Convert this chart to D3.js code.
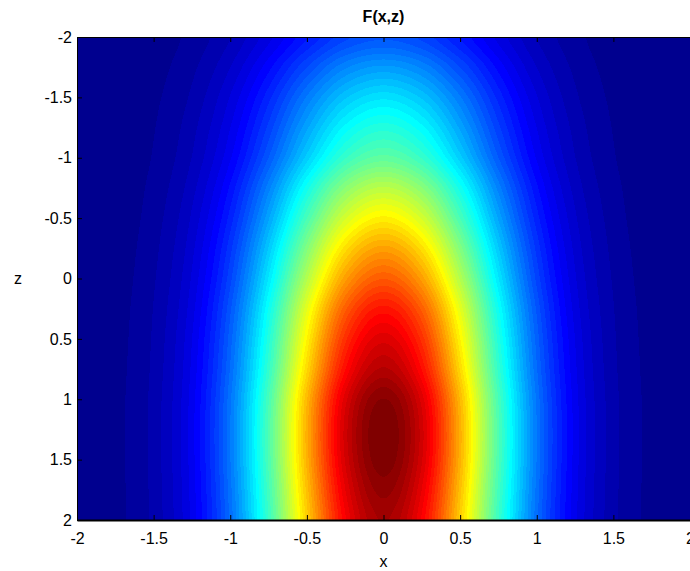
<!DOCTYPE html>
<html>
<head>
<meta charset="utf-8">
<script src="https://cdn.jsdelivr.net/npm/d3@7"></script>
<style>
  html, body { margin: 0; padding: 0; background: #fff; overflow: hidden; }
  svg { display: block; }
  text { font-family: "Liberation Sans", Arial, sans-serif; fill: #000; }
</style>
</head>
<body>
<svg id="chart" width="690" height="571"></svg>
<script>
// Sample grid of F(x,z): columns follow xs, rows follow zs
const xs = [-2, -1.75, -1.5, -1.25, -1, -0.75, -0.5, -0.25, 0, 0.25, 0.5, 0.75, 1, 1.25, 1.5, 1.75, 2];
const zs = [-2, -1.75, -1.5, -1.25, -1, -0.75, -0.5, -0.25, 0, 0.25, 0.5, 0.75, 1, 1.25, 1.5, 1.75, 2];
const F = [
  [0.0006,0.0024,0.0077,0.021,0.047,0.089,0.139,0.183,0.200,0.183,0.139,0.089,0.047,0.021,0.0077,0.0024,0.0006],
  [0.0008,0.0032,0.0103,0.028,0.063,0.120,0.188,0.247,0.270,0.247,0.188,0.120,0.063,0.028,0.0103,0.0032,0.0008],
  [0.0010,0.0040,0.0130,0.035,0.080,0.151,0.237,0.310,0.340,0.310,0.237,0.151,0.080,0.035,0.0130,0.0040,0.0010],
  [0.0012,0.0047,0.0153,0.042,0.094,0.177,0.278,0.365,0.400,0.365,0.278,0.177,0.094,0.042,0.0153,0.0047,0.0012],
  [0.0014,0.0054,0.0176,0.048,0.108,0.204,0.320,0.420,0.460,0.420,0.320,0.204,0.108,0.048,0.0176,0.0054,0.0014],
  [0.0017,0.0065,0.0211,0.057,0.129,0.244,0.383,0.502,0.550,0.502,0.383,0.244,0.129,0.057,0.0211,0.0065,0.0017],
  [0.0019,0.0074,0.0241,0.066,0.148,0.279,0.438,0.575,0.630,0.575,0.438,0.279,0.148,0.066,0.0241,0.0074,0.0019],
  [0.0021,0.0084,0.0272,0.074,0.167,0.315,0.494,0.648,0.710,0.648,0.494,0.315,0.167,0.074,0.0272,0.0084,0.0021],
  [0.0023,0.0092,0.0299,0.081,0.183,0.346,0.543,0.712,0.780,0.712,0.543,0.346,0.183,0.081,0.0299,0.0092,0.0023],
  [0.0026,0.0100,0.0326,0.088,0.200,0.377,0.592,0.776,0.850,0.776,0.592,0.377,0.200,0.088,0.0326,0.0100,0.0026],
  [0.0027,0.0106,0.0345,0.094,0.212,0.399,0.626,0.822,0.900,0.822,0.626,0.399,0.212,0.094,0.0345,0.0106,0.0027],
  [0.0028,0.0111,0.0360,0.098,0.221,0.416,0.654,0.858,0.940,0.858,0.654,0.416,0.221,0.098,0.0360,0.0111,0.0028],
  [0.0030,0.0116,0.0377,0.102,0.231,0.436,0.686,0.899,0.985,0.899,0.686,0.436,0.231,0.102,0.0377,0.0116,0.0030],
  [0.0030,0.0118,0.0383,0.104,0.235,0.443,0.696,0.913,1.000,0.913,0.696,0.443,0.235,0.104,0.0383,0.0118,0.0030],
  [0.0030,0.0117,0.0381,0.103,0.234,0.441,0.693,0.908,0.995,0.908,0.693,0.441,0.234,0.103,0.0381,0.0117,0.0030],
  [0.0029,0.0115,0.0373,0.101,0.229,0.432,0.679,0.890,0.975,0.890,0.679,0.432,0.229,0.101,0.0373,0.0115,0.0029],
  [0.0029,0.0113,0.0366,0.099,0.224,0.423,0.665,0.872,0.955,0.872,0.665,0.423,0.224,0.099,0.0366,0.0113,0.0029]
];
const xTicks = [-2, -1.5, -1, -0.5, 0, 0.5, 1, 1.5, 2];
const zTicks = [-2, -1.5, -1, -0.5, 0, 0.5, 1, 1.5, 2];
const titleText = "F(x,z)";
const xLabel = "x";
const zLabel = "z";

const svg = d3.select("#chart");
const plot = { left: 77, top: 37, width: 613, height: 483 };

const x = d3.scaleLinear().domain(d3.extent(xs)).range([plot.left, plot.left + plot.width]);
const z = d3.scaleLinear().domain(d3.extent(zs)).range([plot.top, plot.top + plot.height]);

// 64-level jet colormap
function jet(k) {
  const r = k <= 23 ? 0 : k <= 39 ? (k - 23) / 16 : k <= 55 ? 1 : 1 - (k - 55) / 16;
  const g = k <= 7 ? 0 : k <= 23 ? (k - 7) / 16 : k <= 39 ? 1 : k <= 55 ? 1 - (k - 39) / 16 : 0;
  const b = k <= 7 ? 0.5 + (k + 1) / 16 : k <= 23 ? 1 : k <= 39 ? 1 - (k - 23) / 16 : 0;
  return [Math.round(r * 255), Math.round(g * 255), Math.round(b * 255)];
}
const allVals = F.flat();
const color = d3.scaleQuantize()
  .domain([d3.min(allVals), d3.max(allVals)])
  .range(d3.range(64).map(jet));

// grid index scales for smooth (cubic) shading between samples
const ix = d3.scaleLinear().domain(d3.extent(xs)).range([0, xs.length - 1]);
const iz = d3.scaleLinear().domain(d3.extent(zs)).range([0, zs.length - 1]);
function cr(p0, p1, p2, p3, t) {
  return 0.5 * (2 * p1 + (-p0 + p2) * t + (2 * p0 - 5 * p1 + 4 * p2 - p3) * t * t + (-p0 + 3 * p1 - 3 * p2 + p3) * t * t * t);
}
const nx = xs.length, nz = zs.length;
const cx = i => Math.max(0, Math.min(nx - 1, i));
const cz = j => Math.max(0, Math.min(nz - 1, j));
function sample(xv, zv) {
  const fx = ix(xv), fz = iz(zv);
  const i = Math.min(nx - 2, Math.floor(fx)), j = Math.min(nz - 2, Math.floor(fz));
  const tx = fx - i, tz = fz - j;
  const rows = [];
  for (let m = -1; m <= 2; m++) {
    const row = F[cz(j + m)];
    rows.push(cr(row[cx(i - 1)], row[cx(i)], row[cx(i + 1)], row[cx(i + 2)], tx));
  }
  return cr(rows[0], rows[1], rows[2], rows[3], tz);
}

// paint the field
const canvas = document.createElement("canvas");
canvas.width = plot.width;
canvas.height = plot.height;
const ctx = canvas.getContext("2d");
const img = ctx.createImageData(plot.width, plot.height);
for (let py = 0; py < plot.height; py++) {
  const zv = z.invert(plot.top + py + 0.5);
  for (let px = 0; px < plot.width; px++) {
    const xv = x.invert(plot.left + px + 0.5);
    const c = color(sample(xv, zv));
    const o = (py * plot.width + px) * 4;
    img.data[o] = c[0]; img.data[o + 1] = c[1]; img.data[o + 2] = c[2]; img.data[o + 3] = 255;
  }
}
ctx.putImageData(img, 0, 0);
svg.append("image")
  .attr("x", plot.left).attr("y", plot.top)
  .attr("width", plot.width).attr("height", plot.height)
  .attr("preserveAspectRatio", "none")
  .attr("href", canvas.toDataURL());

const fmt = d => String(d);

// bottom axis with inward ticks
const gx = svg.append("g")
  .attr("transform", `translate(0,${plot.top + plot.height})`)
  .call(d3.axisBottom(x).tickValues(xTicks).tickFormat(fmt).tickSizeInner(-5).tickSizeOuter(0).tickPadding(13));
gx.select(".domain").attr("stroke", "#000").attr("stroke-width", 2);
gx.selectAll(".tick line").attr("stroke", "#000");
gx.selectAll("text").style("font-size", "16px").attr("fill", "#000");

// top edge ticks
const gt = svg.append("g")
  .attr("transform", `translate(0,${plot.top})`)
  .call(d3.axisTop(x).tickValues(xTicks).tickFormat("").tickSizeInner(-5).tickSizeOuter(0));
gt.select(".domain").attr("stroke", "#000").attr("stroke-width", 1);
gt.selectAll(".tick line").attr("stroke", "#000");

// left axis
const gz = svg.append("g")
  .attr("transform", `translate(${plot.left},0)`)
  .call(d3.axisLeft(z).tickValues(zTicks).tickFormat(fmt).tickSizeInner(-5).tickSizeOuter(0).tickPadding(5));
gz.select(".domain").attr("stroke", "#000").attr("stroke-width", 1);
gz.selectAll(".tick line").attr("stroke", "#000");
gz.selectAll("text").style("font-size", "16px").attr("fill", "#000");

svg.selectAll(".tick text").style("font-family", "'Liberation Sans', Arial, sans-serif");

// title and axis labels
svg.append("text")
  .attr("x", x(0)).attr("y", 22)
  .attr("text-anchor", "middle")
  .style("font-size", "16px").style("font-weight", "bold")
  .text(titleText);
svg.append("text")
  .attr("x", x(0)).attr("y", 567)
  .attr("text-anchor", "middle")
  .style("font-size", "16px")
  .text(xLabel);
svg.append("text")
  .attr("x", 18).attr("y", z(0) + 5)
  .attr("text-anchor", "middle")
  .style("font-size", "16px")
  .text(zLabel);
</script>
</body>
</html>
